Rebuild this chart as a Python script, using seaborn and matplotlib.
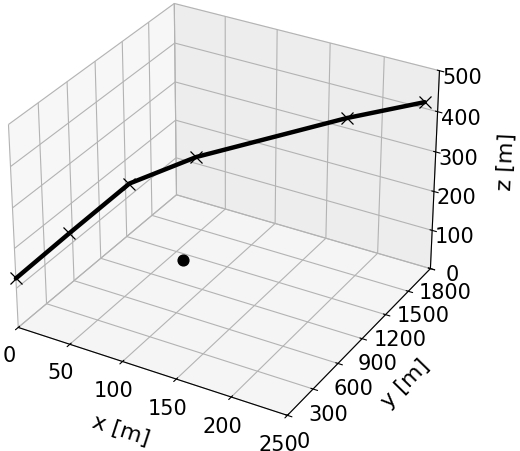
import matplotlib
matplotlib.use("Agg")
import matplotlib.pyplot as plt
import seaborn as sns

sns.set_style("white")
plt.rcParams['font.family'] = ['DejaVu Sans']
plt.rcParams['text.color'] = 'black'
plt.rcParams['axes.labelcolor'] = 'black'
plt.rcParams['xtick.color'] = 'black'
plt.rcParams['ytick.color'] = 'black'

x_vals = [0, 25, 50, 78, 174, 238]
y_vals = [0, 300, 680, 1110, 1700, 1800]
z_vals = [125, 200, 273, 283, 347, 415]
dot_x = [62]
dot_y = [1130]
dot_z = [0]
xticks = [0, 50, 100, 150, 200, 250]
yticks = [0, 300, 600, 900, 1200, 1500, 1800]
zticks = [0, 100, 200, 300, 400, 500]
grid_grey = (0.70, 0.70, 0.70, 1.0)

fig = plt.figure(figsize=(5.2, 4.51), dpi=100)
ax = fig.add_axes([-0.105, 0.012, 1.0625, 1.0625], projection='3d')
ax.plot(x_vals, y_vals, z_vals, color='black', lw=3.2, marker='x', ms=9, mew=0.9)
ax.scatter(dot_x, dot_y, dot_z, color='black', s=60, depthshade=False)
ax.set_xlim(0, 250); ax.set_ylim(0, 1800); ax.set_zlim(0, 500)
ax.set_xticks(xticks); ax.set_yticks(yticks); ax.set_zticks(zticks)
ax.tick_params(labelsize=15, pad=2, colors='black')
ax.set_xlabel('x [m]', fontsize=16, labelpad=10, color='black')
ax.set_ylabel('y [m]', fontsize=16, labelpad=8, color='black')
ax.set_zlabel('z [m]', fontsize=16, labelpad=11, color='black')
for axis, pane in zip((ax.xaxis, ax.yaxis, ax.zaxis), (0.97, 0.93, 0.96)):
    axis.set_pane_color((pane, pane, pane, 1.0))
    axis._axinfo['grid']['color'] = grid_grey
    axis._axinfo['grid']['linewidth'] = 0.8
    axis.line.set_color('black')
    axis.line.set_linewidth(0.8)
fig.savefig('out.png', dpi=100)
